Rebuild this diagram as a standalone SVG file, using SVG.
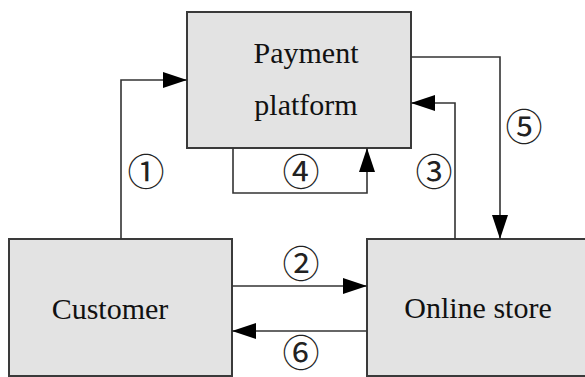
<svg xmlns="http://www.w3.org/2000/svg" width="585" height="377" viewBox="0 0 585 377">
<style>
.box{fill:#e3e3e3;stroke:#3a3a3a;stroke-width:2}
.lbl{font-family:"Liberation Serif","Times New Roman",serif;font-size:30px;fill:#111;text-anchor:middle}
.num{font-family:"Noto Sans CJK SC","DejaVu Sans",sans-serif;font-size:37px;fill:#222;text-anchor:middle;dominant-baseline:central}
.con{fill:none;stroke:#333;stroke-width:1.6}
</style>
<defs>
<marker id="ah" markerUnits="userSpaceOnUse" markerWidth="24" markerHeight="16" refX="24" refY="8" orient="auto">
<path d="M0,0 L24,8 L0,16 z" fill="#000"/>
</marker>
</defs>
<g id="payment">
<rect class="box" x="187" y="12" width="224" height="136"/>
<text class="lbl" x="306" y="63">Payment</text>
<text class="lbl" x="306" y="115">platform</text>
</g>
<g id="customer">
<rect class="box" x="9" y="239" width="223" height="137"/>
<text class="lbl" x="110" y="319">Customer</text>
</g>
<g id="store">
<rect class="box" x="367" y="239" width="225" height="137"/>
<text class="lbl" x="478" y="318">Online store</text>
</g>
<g id="connectors">
<path class="con" d="M121,239 V80 H187" marker-end="url(#ah)"/>
<path class="con" d="M232,286 H367" marker-end="url(#ah)"/>
<path class="con" d="M455,239 V103 H411" marker-end="url(#ah)"/>
<path class="con" d="M233,148 V193 H367 V148" marker-end="url(#ah)"/>
<path class="con" d="M411,57 H500 V239" marker-end="url(#ah)"/>
<path class="con" d="M367,331 H232" marker-end="url(#ah)"/>
<text class="num" x="146" y="170">①</text>
<text class="num" x="301" y="262">②</text>
<text class="num" x="434" y="170">③</text>
<text class="num" x="301" y="170">④</text>
<text class="num" x="524" y="125">⑤</text>
<text class="num" x="301" y="351">⑥</text>
</g>
</svg>
